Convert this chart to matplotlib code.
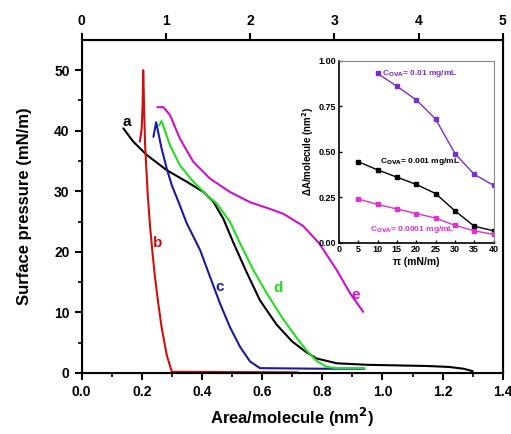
import matplotlib.pyplot as plt

plt.rcParams['font.family'] = ['Liberation Sans', 'DejaVu Sans']
plt.rcParams['font.weight'] = 'bold'

# isotherms: area per molecule (nm^2) vs surface pressure (mN/m)
a_x = [0.139, 0.172, 0.217, 0.283, 0.349, 0.405, 0.438, 0.471, 0.504, 0.549, 0.593, 0.648,
       0.700, 0.745, 0.781, 0.848, 0.95, 1.05, 1.15, 1.22, 1.27, 1.30]
a_y = [40.4, 38.2, 36.0, 33.5, 31.6, 29.9, 28.3, 25.5, 21.6, 16.6, 12.0, 8.0,
       5.2, 3.5, 2.4, 1.6, 1.35, 1.25, 1.15, 1.0, 0.7, 0.3]

b_x = [0.194, 0.200, 0.203, 0.205, 0.208, 0.211, 0.214, 0.220, 0.228, 0.236, 0.244,
       0.255, 0.266, 0.283, 0.300, 0.72]
b_y = [38.2, 40.4, 44.0, 50.0, 44.0, 38.0, 35.1, 29.5, 24.1, 19.8, 15.9,
       11.5, 7.6, 3.0, 0.2, 0.1]

c_x = [0.239, 0.248, 0.266, 0.283, 0.300, 0.322, 0.349, 0.394, 0.427, 0.460, 0.493, 0.527,
       0.560, 0.593, 0.70, 0.80, 0.94]
c_y = [39.0, 41.4, 37.1, 33.8, 31.0, 28.3, 24.8, 20.3, 15.9, 11.5, 7.6, 4.3,
       1.9, 0.8, 0.75, 0.7, 0.7]

d_x = [0.258, 0.266, 0.294, 0.327, 0.371, 0.416, 0.449, 0.493, 0.527, 0.571, 0.615, 0.670,
       0.715, 0.75, 0.781, 0.815, 0.848, 0.94]
d_y = [40.9, 41.6, 37.6, 34.3, 31.6, 29.4, 28.0, 25.0, 21.4, 17.0, 13.2, 8.9,
       5.8, 3.6, 2.0, 1.0, 0.8, 0.8]

e_x = [0.252, 0.272, 0.294, 0.327, 0.371, 0.427, 0.493, 0.560, 0.62, 0.67, 0.736,
       0.79, 0.848, 0.892, 0.936]
e_y = [43.9, 43.9, 42.6, 38.7, 34.9, 32.1, 29.9, 28.2, 27.2, 26.3, 24.3,
       21.4, 17.0, 13.2, 10.1]

# inset: area change vs pressure for three OVA concentrations
pi_hi = [10, 15, 20, 25, 30, 35, 40]
dA_hi = [0.93, 0.86, 0.785, 0.68, 0.49, 0.375, 0.315]
pi_mid = [5, 10, 15, 20, 25, 30, 35, 40]
dA_mid = [0.445, 0.40, 0.36, 0.32, 0.27, 0.175, 0.09, 0.065]
pi_lo = [5, 10, 15, 20, 25, 30, 35, 40]
dA_lo = [0.24, 0.21, 0.185, 0.16, 0.135, 0.095, 0.065, 0.045]

fig = plt.figure(figsize=(5.11, 4.34), dpi=100)
ax = fig.add_axes([0.1595, 0.1406, 0.8245, 0.7674])

curve_kw = dict(lw=1.5, solid_joinstyle='round', solid_capstyle='round')
ax.plot(a_x, a_y, color='black', **curve_kw)
ax.plot(b_x, b_y, color='#cc1010', **curve_kw)
ax.plot(c_x, c_y, color='#1a1aa0', **curve_kw)
ax.plot(d_x, d_y, color='#22dd22', **curve_kw)
ax.plot(e_x, e_y, color='#cc10cc', **curve_kw)

ax.text(0.15, 41.5, 'a', color='black', fontsize=11, ha='center', va='center')
ax.text(0.254, 21.4, 'b', color='#cc1010', fontsize=11, ha='center', va='center')
ax.text(0.46, 14.2, 'c', color='#1a1aa0', fontsize=11, ha='center', va='center')
ax.text(0.654, 14.0, 'd', color='#22dd22', fontsize=11, ha='center', va='center')
ax.text(0.912, 12.9, 'e', color='#cc10cc', fontsize=11, ha='center', va='center')

ax.set_xlim(0, 1.4)
ax.set_ylim(0, 55)
ax.set_xticks([0.0, 0.2, 0.4, 0.6, 0.8, 1.0, 1.2, 1.4])
ax.set_xticks([0.1, 0.3, 0.5, 0.7, 0.9, 1.1, 1.3], minor=True)
ax.set_yticks([0, 10, 20, 30, 40, 50])
ax.set_yticks([5, 15, 25, 35, 45], minor=True)
ax.tick_params(labelsize=10, width=1.5, length=5, direction='out')
ax.tick_params(which='minor', width=1.2, length=3, direction='out')
ax.set_xlabel('Area/molecule (nm$^\\mathbf{2}$)', fontsize=12, fontweight='bold', labelpad=5)
ax.set_ylabel('Surface pressure (mN/m)', fontsize=12, fontweight='bold', labelpad=16)
for s in ax.spines.values():
    s.set_linewidth(1.5)

top = ax.twiny()
top.set_xlim(0, 5)
top.set_xticks([0, 1, 2, 3, 4, 5])
top.tick_params(labelsize=10, width=1.5, length=5, direction='out')

ins = fig.add_axes([0.663, 0.441, 0.303, 0.419])
ins.plot(pi_hi, dA_hi, color='#7a30c8', lw=1, marker='s', ms=3.5)
ins.plot(pi_mid, dA_mid, color='black', lw=1, marker='s', ms=3.5)
ins.plot(pi_lo, dA_lo, color='#e030d0', lw=1, marker='s', ms=3.5)
ins.text(11.2, 0.93, 'C$_{\\mathbf{OVA}}$= 0.01 mg/mL', color='#7a30c8', fontsize=6, va='center')
ins.text(10.6, 0.445, 'C$_{\\mathbf{OVA}}$= 0.001 mg/mL', color='black', fontsize=6, va='center')
ins.text(8.0, 0.074, 'C$_{\\mathbf{OVA}}$= 0.0001 mg/mL', color='#e030d0', fontsize=6, va='center')
ins.set_xlim(0, 40)
ins.set_ylim(0, 1.0)
ins.set_xticks(range(0, 45, 5))
ins.set_yticks([0.0, 0.25, 0.5, 0.75, 1.0])
ins.set_yticklabels(['0.00', '0.25', '0.50', '0.75', '1.00'])
ins.tick_params(labelsize=6.5, width=1, length=2.5, direction='in', pad=2)
ins.set_xlabel('π (mN/m)', fontsize=7.5, fontweight='bold', labelpad=2)
ins.set_ylabel('ΔA/molecule (nm$^\\mathbf{2}$)', fontsize=7, fontweight='bold', labelpad=2)
ins.spines['left'].set_linewidth(1.2)
ins.spines['bottom'].set_linewidth(1.2)
ins.spines['top'].set_color('#888888')
ins.spines['right'].set_color('#888888')

fig.savefig('out.png', dpi=100)
